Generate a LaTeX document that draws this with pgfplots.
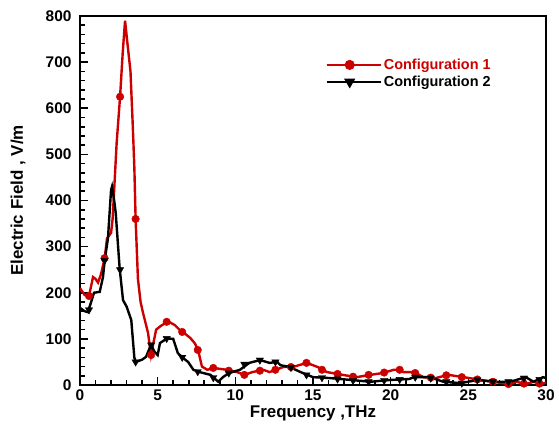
\documentclass[border=0pt]{standalone}
\usepackage{pgfplots}
\pgfplotsset{compat=1.18}
\usepackage{fontspec}
\setmainfont{Liberation Sans}
\definecolor{cred}{RGB}{205,0,0}

\begin{document}
\begin{tikzpicture}
\begin{axis}[
 scale only axis, width=466bp, height=369bp,
 xmin=0,xmax=30,ymin=0,ymax=800,
 xtick={0,5,...,30}, ytick={0,100,...,800},
 minor x tick num=4, minor y tick num=4,
 tick align=inside, tick pos=left,
 major tick length=8bp, minor tick length=5bp,
 axis line style={line width=2.2bp},
 every tick/.style={line width=1.6bp, black},
 /pgf/number format/assume math mode=true,
 ticklabel style={font=\fontsize{15.5}{18}\selectfont\bfseries},
 yticklabel style={xshift=-5bp},
 xticklabel style={yshift=-1bp},
 xlabel={Frequency ,THz}, ylabel={Electric Field , V/m},
 every axis x label/.style={at={(axis description cs:0.5,-0.076)}, anchor=center},
 every axis y label/.style={at={(axis description cs:-0.133,0.5)}, rotate=90, anchor=center},
 label style={font=\fontsize{17}{20}\selectfont\bfseries},
 legend style={draw=none, fill=none, at={(axis description cs:0.52,0.895)}, anchor=north west,
   font=\fontsize{14.5}{17}\selectfont\bfseries, row sep=1bp},
 legend cell align=left,
 legend image code/.code={\draw[mark repeat=2,mark phase=2,#1] plot coordinates {(0bp,0bp) (23bp,0bp) (46bp,0bp)}; \path (0bp,0bp) -- (54bp,0bp);},
]
% Configuration 1 line
\addplot[cred, line width=2.4bp, forget plot] coordinates {
(0,210) (0.3,195) (0.58,193) (0.84,234) (1.0,230) (1.16,222) (1.35,240) (1.59,275) (1.74,318)
(2.0,330) (2.1,360) (2.25,455) (2.36,525) (2.58,625) (2.75,720) (2.9,790) (3.05,742) (3.25,680)
(3.4,560) (3.5,470) (3.58,360) (3.73,230) (3.9,180) (4.06,156) (4.38,113) (4.57,65) (4.75,95)
(4.9,120) (5.2,128) (5.67,138) (6.1,130) (6.55,115) (6.8,110) (7.1,102) (7.4,90) (7.6,76)
(7.85,40) (8.2,33) (8.6,37) (9.0,35) (9.45,33) (10.1,28) (10.6,22) (11.1,28) (11.8,33)
(12.2,28) (12.6,33) (13.1,39) (13.7,39) (14.6,48) (15.3,39) (15.9,28) (16.9,22) (17.8,17)
(18.7,22) (19.5,26) (20.2,33) (20.6,33) (20.8,28) (21.5,28) (22.1,17) (22.9,15) (23.7,22)
(24.7,17) (25.8,11) (26.6,7) (27.6,2) (28.1,7) (28.7,2) (29.2,7) (29.7,2) (30,5)
};
\addplot[only marks, cred, mark=*, mark size=3.8bp, forget plot] coordinates {
(0.58,193) (1.58,275) (2.58,625) (3.58,360) (4.58,65) (5.58,137) (6.58,115) (7.58,76)
(8.58,37) (9.58,31) (10.58,22) (11.58,31) (12.58,33) (13.58,39) (14.58,48) (15.58,33)
(16.58,24) (17.58,18) (18.58,22) (19.58,27) (20.58,33) (21.58,26) (22.58,16) (23.58,21)
(24.58,17) (25.58,12) (26.58,7) (27.58,2) (28.58,3) (29.58,3)
};
% Configuration 2 line
\addplot[black, line width=2.4bp, forget plot] coordinates {
(0,167) (0.3,160) (0.5,158) (0.7,178) (0.9,200) (1.27,202) (1.48,234) (1.59,270) (1.8,318)
(2.0,423) (2.06,430) (2.2,400) (2.3,373) (2.55,254) (2.77,184) (3.0,170) (3.3,141) (3.5,59)
(3.6,50) (4.0,55) (4.25,61) (4.57,87) (4.8,72) (5.0,65) (5.15,91) (5.47,98) (5.6,101)
(6.0,100) (6.3,69) (6.65,58) (6.96,50) (7.3,33) (7.7,28) (8.4,22) (8.9,7) (9.2,17) (9.6,26)
(10.3,33) (10.9,48) (11.6,54) (12.2,48) (12.7,50) (12.9,43) (13.5,39) (14.2,28) (15.0,17)
(16.1,15) (17.4,11) (18.7,7) (20.0,11) (21.2,13) (21.5,17) (22.5,17) (23.4,7) (24.5,4)
(25.6,11) (26.6,7) (27.7,7) (28.7,17) (29.2,7) (29.8,17) (30,15)
};
\addplot[only marks, black, mark=triangle*, mark options={rotate=180}, mark size=4.2bp, forget plot] coordinates {
(0.58,163) (1.58,270) (2.58,250) (3.58,50) (4.58,87) (5.58,101) (6.58,60) (7.58,29)
(8.58,16) (9.58,26) (10.58,45) (11.58,54) (12.58,50) (13.58,38) (14.58,22) (15.58,16)
(16.58,13) (17.58,10) (18.58,7) (19.58,10) (20.58,12) (21.58,17) (22.58,15) (23.58,7)
(24.58,4) (25.58,11) (26.58,7) (27.58,7) (28.58,15) (29.58,12)
};
\addlegendimage{cred, line width=2.4bp, mark=*, mark size=3.8bp}
\addlegendentry{\textcolor{cred}{Configuration 1}}
\addlegendimage{black, line width=2.4bp, mark=triangle*, mark options={rotate=180}, mark size=4.2bp}
\addlegendentry{Configuration 2}
\end{axis}
\path ([xshift=-80bp,yshift=-55bp]current axis.south west) rectangle ++(559bp,440bp);
\end{tikzpicture}
\end{document}
